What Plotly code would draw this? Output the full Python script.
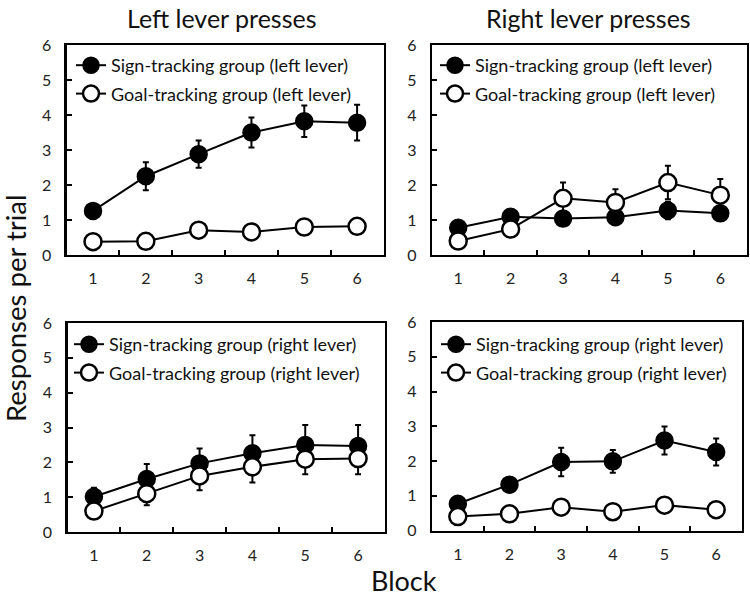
import plotly.graph_objects as go

W, H = 750, 597

blocks = ["1", "2", "3", "4", "5", "6"]

# Panel 1: Left lever presses (left lever)
p1_st = [1.26, 2.25, 2.88, 3.50, 3.82, 3.78]
p1_st_err = [0.15, 0.40, 0.39, 0.43, 0.45, 0.51]
p1_gt = [0.38, 0.39, 0.71, 0.66, 0.80, 0.82]
p1_gt_err = [0.08, 0.08, 0.10, 0.10, 0.12, 0.12]

# Panel 2: Right lever presses (left lever)
p2_st = [0.78, 1.09, 1.04, 1.08, 1.27, 1.19]
p2_st_err = [0.15, 0.15, 0.20, 0.20, 0.25, 0.20]
p2_gt = [0.40, 0.74, 1.62, 1.50, 2.07, 1.71]
p2_gt_err = [0.10, 0.15, 0.45, 0.38, 0.48, 0.46]

# Panel 3: Left lever presses (right lever)
p3_st = [1.01, 1.52, 1.97, 2.26, 2.50, 2.47]
p3_st_err = [0.26, 0.43, 0.43, 0.52, 0.57, 0.60]
p3_gt = [0.60, 1.10, 1.61, 1.87, 2.09, 2.11]
p3_gt_err = [0.15, 0.33, 0.41, 0.45, 0.43, 0.45]

# Panel 4: Right lever presses (right lever)
p4_st = [0.77, 1.32, 1.97, 1.99, 2.59, 2.26]
p4_st_err = [0.12, 0.22, 0.41, 0.33, 0.40, 0.39]
p4_gt = [0.40, 0.48, 0.67, 0.54, 0.73, 0.60]
p4_gt_err = [0.08, 0.08, 0.10, 0.10, 0.10, 0.10]

y_ticks = [0, 1, 2, 3, 4, 5, 6]
col_titles = ["Left lever presses", "Right lever presses"]
x_title = "Block"
y_title = "Responses per trial"

FONT = "Lato"
TXT = "#222222"

panels = [
    # (st, st_err, gt, gt_err, lever, x px domain, y px domain, legend symbol px)
    (p1_st, p1_st_err, p1_gt, p1_gt_err, "left lever", (66.6, 383.5), (45, 255), (90, 63)),
    (p2_st, p2_st_err, p2_gt, p2_gt_err, "left lever", (432, 746.5), (45, 255), (454, 63)),
    (p3_st, p3_st_err, p3_gt, p3_gt_err, "right lever", (67.5, 384.5), (323, 532), (88, 342)),
    (p4_st, p4_st_err, p4_gt, p4_gt_err, "right lever", (432, 742), (322, 530.5), (455, 342)),
]

fig = go.Figure()
layout = {}

for i, (st, ste, gt, gte, lever, xd, yd, lg) in enumerate(panels):
    n = "" if i == 0 else str(i + 1)
    xa, ya = "x" + n, "y" + n
    leg = "legend" + n
    fig.add_trace(go.Scatter(
        x=blocks, y=st, xaxis=xa, yaxis=ya, mode="lines+markers",
        name=f"Sign-tracking group ({lever})", legend=leg, legendgroup=f"st{i}",
        line=dict(color="black", width=2),
        marker=dict(size=17, color="black", line=dict(color="black", width=1.5)),
        error_y=dict(type="data", array=ste, color="black", thickness=2, width=3),
    ))
    fig.add_trace(go.Scatter(
        x=blocks, y=gt, xaxis=xa, yaxis=ya, mode="lines+markers",
        name=f"Goal-tracking group ({lever})", legend=leg, legendgroup=f"gt{i}",
        line=dict(color="black", width=2),
        marker=dict(size=17, color="white", line=dict(color="black", width=2.5)),
        error_y=dict(type="data", array=gte, color="black", thickness=2, width=3),
    ))
    layout["xaxis" + n] = dict(
        domain=[xd[0] / W, xd[1] / W], anchor=ya, type="category",
        categoryorder="array", categoryarray=blocks, range=[-0.5, 5.5],
        tickson="boundaries", ticks="inside", ticklen=5, tickwidth=2, tickcolor="black",
        showline=True, mirror=True, linecolor="black", linewidth=2.2,
        showgrid=False, zeroline=False, ticklabelstandoff=8, automargin=False,
        tickfont=dict(family=FONT, size=16, color=TXT), fixedrange=True,
    )
    layout["yaxis" + n] = dict(
        domain=[1 - yd[1] / H, 1 - yd[0] / H], anchor=xa, range=[0, 6],
        tickvals=y_ticks, ticks="inside", ticklen=5, tickwidth=2, tickcolor="black",
        showline=True, mirror=True, linecolor="black", linewidth=2.2,
        showgrid=False, zeroline=False, ticklabelstandoff=10, automargin=False,
        tickfont=dict(family=FONT, size=16, color=TXT), fixedrange=True,
    )
    layout[leg] = dict(
        x=(lg[0] - 19) / W, y=1 - (lg[1] - 16) / H, xanchor="left", yanchor="top",
        bgcolor="rgba(0,0,0,0)", borderwidth=0, tracegroupgap=2,
        font=dict(family=FONT, size=18, color="#111111"), itemsizing="trace",
    )

annotations = [
    dict(text=col_titles[0], x=222 / W, y=1 - 18 / H, xref="paper", yref="paper",
         showarrow=False, font=dict(family=FONT, size=25, color="#111111"),
         xanchor="center", yanchor="middle"),
    dict(text=col_titles[1], x=588 / W, y=1 - 18 / H, xref="paper", yref="paper",
         showarrow=False, font=dict(family=FONT, size=25, color="#111111"),
         xanchor="center", yanchor="middle"),
    dict(text=x_title, x=404 / W, y=1 - 580 / H, xref="paper", yref="paper",
         showarrow=False, font=dict(family=FONT, size=27, color="#111111"),
         xanchor="center", yanchor="middle"),
    dict(text=y_title, x=15 / W, y=1 - 308 / H, xref="paper", yref="paper",
         showarrow=False, textangle=-90, font=dict(family=FONT, size=27.5, color="#111111"),
         xanchor="center", yanchor="middle"),
]

fig.update_layout(
    width=W, height=H, margin=dict(l=0, r=0, t=0, b=0, autoexpand=False),
    paper_bgcolor="white", plot_bgcolor="white",
    showlegend=True, annotations=annotations, **layout,
)

fig.write_html(
    "out.html",
    config={"displayModeBar": False, "staticPlot": True},
    post_script="document.body.style.margin='0';document.body.style.overflow='hidden';",
)
